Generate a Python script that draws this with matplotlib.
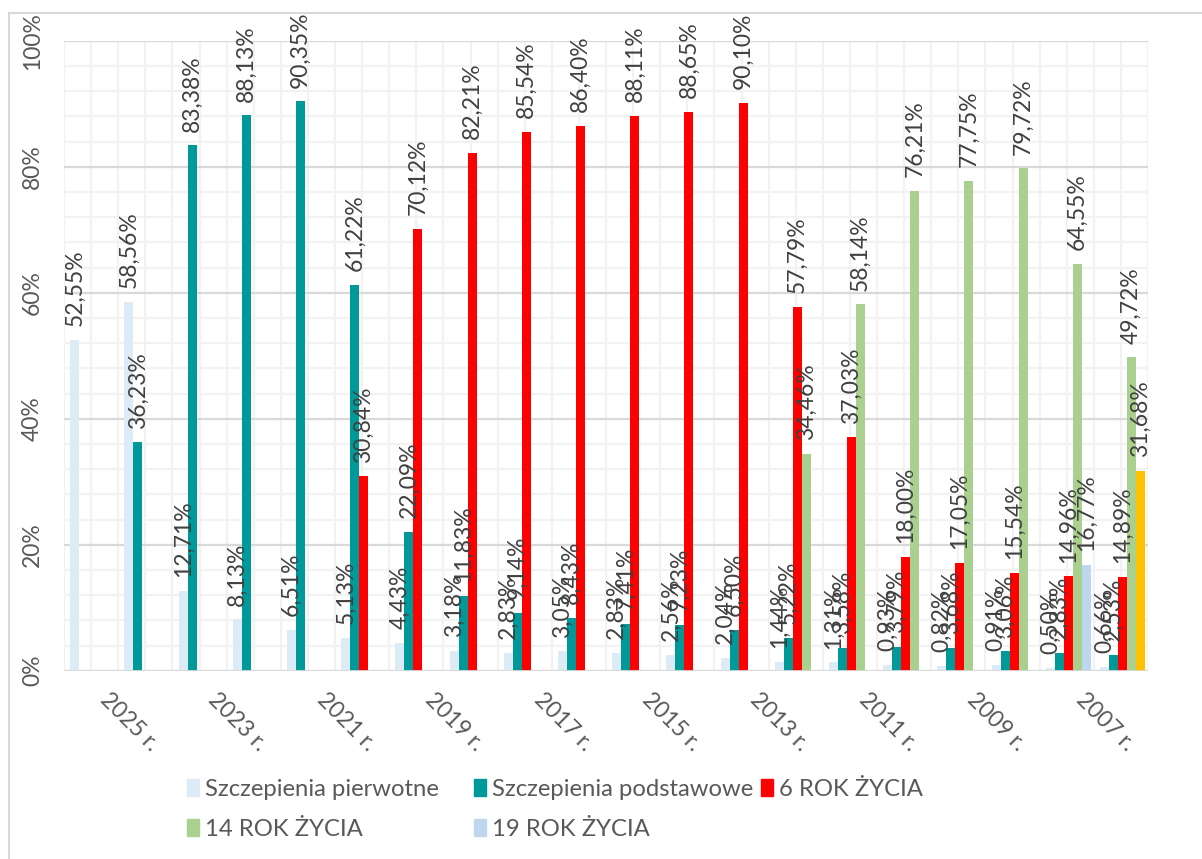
import numpy as np
import matplotlib
matplotlib.use("Agg")
import matplotlib.pyplot as plt
from matplotlib.patches import Rectangle
from matplotlib.transforms import ScaledTranslation

plt.rcParams['font.family'] = ['Lato', 'DejaVu Sans']

years = [2025, 2024, 2023, 2022, 2021, 2020, 2019, 2018, 2017, 2016,
         2015, 2014, 2013, 2012, 2011, 2010, 2009, 2008, 2007, 2006]
year_labels = [f"{y} r." for y in years]
nan = np.nan

pierwotne = [52.55, 58.56, 12.71, 8.13, 6.51, 5.13, 4.43, 3.18, 2.83, 3.05,
             2.83, 2.56, 2.04, 1.44, 1.31, 0.93, 0.82, 0.91, 0.50, 0.66]
podstawowe = [nan, 36.23, 83.38, 88.13, 90.35, 61.22, 22.09, 11.83, 9.14, 8.43,
              7.41, 7.23, 6.50, 5.22, 3.58, 3.79, 3.68, 3.06, 2.83, 2.53]
rok6 = [nan, nan, nan, nan, nan, 30.84, 70.12, 82.21, 85.54, 86.40,
        88.11, 88.65, 90.10, 57.79, 37.03, 18.00, 17.05, 15.54, 14.96, 14.89]
rok14 = [nan, nan, nan, nan, nan, nan, nan, nan, nan, nan,
         nan, nan, nan, 34.46, 58.14, 76.21, 77.75, 79.72, 64.55, 49.72]
rok19 = [nan, nan, nan, nan, nan, nan, nan, nan, nan, nan,
         nan, nan, nan, nan, nan, nan, nan, nan, 16.77, 31.68]

series_names = ["Szczepienia pierwotne", "Szczepienia podstawowe", "6 ROK ŻYCIA",
                "14 ROK ŻYCIA", "19 ROK ŻYCIA"]
series_values = [pierwotne, podstawowe, rok6, rok14, rok19]
series_colors = ["#DDEBF7", "#009999", "#FF0000", "#A9D08E", "#BDD7EE"]
highlight_color = "#FFC000"   # last point of the 19 ROK series

W, H = 1202, 859
fig = plt.figure(figsize=(W / 100, H / 100), dpi=100)
ax = fig.add_axes([64 / W, 1 - 670.7 / H, (1148 - 64) / W, (670.7 - 40.7) / H])

txt_color = "#595959"
fs = 16.5
n = len(years)
x = np.arange(n)
bw = 1 / 6
handles = []
for k, (vals, col) in enumerate(zip(series_values, series_colors)):
    vals = np.array(vals, dtype=float)
    cols = [col] * n
    if k == 4:
        cols[-1] = highlight_color
    off = (k - 2) * bw + 0.03
    ax.bar(x + off, np.nan_to_num(vals), width=bw, color=cols, zorder=3, linewidth=0)
    handles.append(Rectangle((0, 0), 1, 1, color=col))
    for xi, v in zip(x, vals):
        if np.isnan(v):
            continue
        ax.annotate(f"{v:.2f}%".replace(".", ","), (xi + off, v),
                    xytext=(0, 10), textcoords="offset points",
                    rotation=90, ha="center", va="bottom",
                    fontsize=fs, color="#404040", zorder=5)

ax.set_xlim(-0.5, n - 0.5)
ax.set_ylim(0, 100)

# gridlines
for yv in np.arange(0, 101, 4):
    major = yv % 20 == 0
    ax.axhline(yv, color="#D9D9D9" if major else "#F2F2F2", lw=1.6,
               zorder=2 if major else 1)
for xv in np.arange(-0.5, n, 0.5):
    ax.axvline(xv, color="#F2F2F2", lw=1.6, zorder=0.5)
ax.axhline(0, color="#D9D9D9", lw=2, zorder=4)

for s in ax.spines.values():
    s.set_visible(False)

ax.set_yticks(np.arange(0, 101, 20))
ax.set_yticklabels([f"{v}%" for v in range(0, 101, 20)], rotation=90, va="center",
                   fontsize=fs, color=txt_color)
ax.tick_params(axis="y", length=0, pad=15)

ax.set_xticks(x[::2])
ax.set_xticklabels(year_labels[::2], rotation=-45, ha="left", va="top",
                   rotation_mode="anchor", fontsize=fs, color=txt_color)
ax.tick_params(axis="x", length=0, pad=13)
shift = ScaledTranslation(20 / 100, 0, fig.dpi_scale_trans)
for lab in ax.get_xticklabels():
    lab.set_transform(lab.get_transform() + shift)

# outer chart border
fig.patches.append(Rectangle((8.5 / W, -0.1), 1.2, 1 - 12.7 / H + 0.1,
                             transform=fig.transFigure, fill=False,
                             edgecolor="#D9D9D9", lw=1.5))

# legend (3 columns, Excel-like fixed column positions)
cols_idx = [[0, 3], [1, 4], [2]]
col_x = [187, 474, 761]
for cx, idxs in zip(col_x, cols_idx):
    fig.legend([handles[i] for i in idxs], [series_names[i] for i in idxs],
               loc="upper left", bbox_to_anchor=(cx / W, 1 - 779 / H),
               frameon=False, fontsize=17.2, labelcolor=txt_color,
               handlelength=0.5, handleheight=0.75, handletextpad=0.25,
               labelspacing=0.78, borderpad=0, borderaxespad=0)

fig.savefig("out.png", dpi=100)
